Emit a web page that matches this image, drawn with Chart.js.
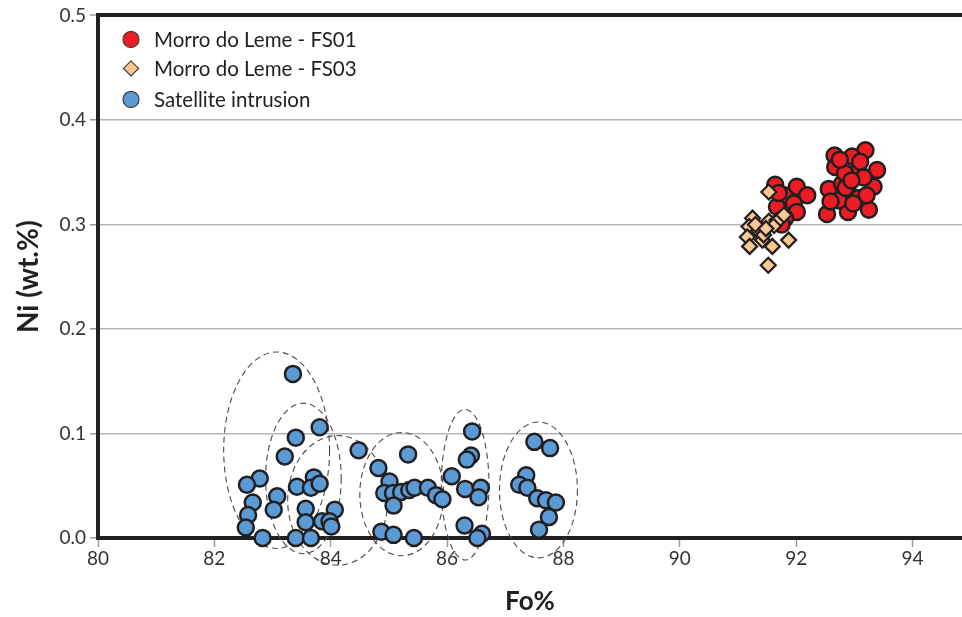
<!DOCTYPE html>
<html>
<head>
<meta charset="utf-8">
<title>Ni vs Fo% in olivine</title>
<script src="https://cdn.jsdelivr.net/npm/chart.js@4.4.1/dist/chart.umd.min.js"></script>
<style>
  html, body { margin: 0; padding: 0; background: #ffffff; }
  #wrap { width: 962px; height: 617px; }
</style>
</head>
<body>
<div id="wrap"><canvas id="chart" width="962" height="617"></canvas></div>
<script>
// Olivine compositions: forsterite content (Fo%) against Ni (wt.%)
const seriesNames = ['Morro do Leme - FS01', 'Morro do Leme - FS03', 'Satellite intrusion'];

// Morro do Leme, sample FS01 — [Fo%, Ni wt.%]
const fs01 = [
  [91.64, 0.338], [92.01, 0.336], [92.19, 0.328], [91.79, 0.328], [91.96, 0.320],
  [92.01, 0.312], [91.67, 0.317], [91.81, 0.306], [91.70, 0.330], [91.75, 0.300],
  [92.66, 0.366], [93.19, 0.371], [93.39, 0.352], [93.33, 0.336], [93.25, 0.314],
  [92.89, 0.312], [92.53, 0.310], [92.56, 0.334], [92.67, 0.355], [92.96, 0.365],
  [93.07, 0.352], [93.16, 0.345], [92.79, 0.339], [92.90, 0.330], [93.07, 0.325],
  [92.73, 0.323], [93.21, 0.328], [92.84, 0.349], [92.98, 0.320], [92.59, 0.322],
  [92.75, 0.362], [93.10, 0.360], [92.85, 0.335], [92.95, 0.342]
];

// Morro do Leme, sample FS03 — [Fo%, Ni wt.%]
const fs03 = [
  [91.53, 0.331], [91.25, 0.306], [91.19, 0.298], [91.35, 0.294], [91.16, 0.288],
  [91.20, 0.279], [91.42, 0.285], [91.59, 0.279], [91.53, 0.303], [91.67, 0.304],
  [91.87, 0.285], [91.52, 0.261], [91.44, 0.290], [91.62, 0.299], [91.73, 0.306],
  [91.79, 0.309], [91.30, 0.300], [91.48, 0.296]
];

// Satellite intrusion — [Fo%, Ni wt.%]
const satellite = [
  [83.35, 0.157], [83.81, 0.106], [83.40, 0.096], [83.21, 0.078], [82.78, 0.057],
  [82.56, 0.051], [82.66, 0.034], [82.58, 0.022], [82.54, 0.010], [82.83, 0.000],
  [83.08, 0.040], [83.02, 0.027], [83.42, 0.049], [83.71, 0.058], [83.66, 0.048],
  [83.81, 0.052], [83.57, 0.028], [83.57, 0.015], [83.40, 0.000], [83.66, 0.000],
  [84.07, 0.027], [83.85, 0.016], [83.98, 0.016], [84.01, 0.011],
  [84.48, 0.084], [85.33, 0.080], [84.82, 0.067], [85.01, 0.054], [84.92, 0.043],
  [85.07, 0.043], [85.21, 0.044], [85.35, 0.046], [85.44, 0.048], [85.67, 0.048],
  [85.81, 0.041], [85.92, 0.037], [85.08, 0.031], [84.87, 0.006], [85.08, 0.003],
  [85.43, 0.000],
  [86.08, 0.059], [86.43, 0.102], [86.41, 0.079], [86.34, 0.075], [86.31, 0.047],
  [86.58, 0.048], [86.54, 0.039], [86.30, 0.012], [86.60, 0.004], [86.52, 0.000],
  [87.50, 0.092], [87.77, 0.086], [87.36, 0.060], [87.24, 0.051], [87.38, 0.048],
  [87.55, 0.038], [87.70, 0.036], [87.87, 0.034], [87.75, 0.020], [87.58, 0.008]
];

// Dashed groupings of the satellite analyses — centre (Fo%, Ni) and half-widths in data units
const groupCentresFo = [83.07, 83.53, 84.12, 85.22, 86.31, 87.57];
const groupCentresNi = [0.084, 0.057, 0.036, 0.042, 0.051, 0.046];
const groupHalfFo    = [0.91, 0.65, 0.86, 0.72, 0.41, 0.67];
const groupHalfNi    = [0.094, 0.072, 0.062, 0.059, 0.072, 0.065];

// Axis ranges and ticks
const xRange = [80, 94.85];
const xStep = 2;
const yRange = [0, 0.5];
const yStep = 0.1;

const INK = '#231f20';
const FONT = "'Lato', 'Noto Sans', sans-serif";

const toXY = arr => arr.map(p => ({ x: p[0], y: p[1] }));

// Dashed ellipses drawn beneath the markers
const groupOutlines = {
  id: 'groupOutlines',
  beforeDatasetsDraw(chart) {
    const { ctx, scales: { x, y } } = chart;
    ctx.save();
    ctx.strokeStyle = '#4a4a4a';
    ctx.lineWidth = 1.1;
    ctx.setLineDash([6, 4]);
    for (let i = 0; i < groupCentresFo.length; i++) {
      const cx = x.getPixelForValue(groupCentresFo[i]);
      const cy = y.getPixelForValue(groupCentresNi[i]);
      const rx = Math.abs(x.getPixelForValue(groupCentresFo[i] + groupHalfFo[i]) - cx);
      const ry = Math.abs(y.getPixelForValue(groupCentresNi[i] + groupHalfNi[i]) - cy);
      ctx.beginPath();
      ctx.ellipse(cx, cy, rx, ry, 0, 0, Math.PI * 2);
      ctx.stroke();
    }
    ctx.restore();
  }
};

// Legend box inside the plot, top-left
const insetLegend = {
  id: 'insetLegend',
  afterDatasetsDraw(chart) {
    const { ctx, chartArea } = chart;
    const x0 = chartArea.left + 33;
    const rows = [24, 53, 84];
    ctx.save();
    chart.data.datasets.forEach((ds, i) => {
      const cy = chartArea.top + rows[i];
      ctx.fillStyle = ds.backgroundColor;
      ctx.strokeStyle = '#3a3a3a';
      ctx.lineWidth = 1.2;
      ctx.beginPath();
      if (ds.pointStyle === 'rectRot') {
        const r = 7.5;
        ctx.moveTo(x0, cy - r);
        ctx.lineTo(x0 + r, cy);
        ctx.lineTo(x0, cy + r);
        ctx.lineTo(x0 - r, cy);
        ctx.closePath();
      } else {
        ctx.arc(x0, cy, 8, 0, Math.PI * 2);
      }
      ctx.fill();
      ctx.stroke();
      ctx.fillStyle = INK;
      ctx.font = '20.5px ' + FONT;
      ctx.textBaseline = 'middle';
      ctx.textAlign = 'left';
      ctx.fillText(ds.label, x0 + 23, cy + 1);
    });
    ctx.restore();
  }
};

new Chart(document.getElementById('chart'), {
  type: 'scatter',
  data: {
    datasets: [
      {
        label: seriesNames[0],
        data: toXY(fs01),
        pointStyle: 'circle',
        backgroundColor: '#ed1c24',
        borderColor: INK,
        borderWidth: 2.5,
        pointRadius: 8,
        pointHoverRadius: 8,
        order: 1
      },
      {
        label: seriesNames[1],
        data: toXY(fs03),
        pointStyle: 'rectRot',
        backgroundColor: '#fcc891',
        borderColor: INK,
        borderWidth: 2.2,
        pointRadius: 7.5,
        pointHoverRadius: 7.5,
        order: 0
      },
      {
        label: seriesNames[2],
        data: toXY(satellite),
        pointStyle: 'circle',
        backgroundColor: '#5b9bd5',
        borderColor: INK,
        borderWidth: 2.5,
        pointRadius: 8,
        pointHoverRadius: 8,
        order: 2
      }
    ]
  },
  options: {
    responsive: false,
    animation: false,
    devicePixelRatio: 1,
    clip: false,
    layout: { autoPadding: false, padding: { top: 15, right: 0, bottom: 0, left: 0 } },
    plugins: {
      legend: { display: false },
      tooltip: { enabled: false }
    },
    scales: {
      x: {
        type: 'linear',
        min: xRange[0],
        max: xRange[1],
        afterFit(scale) { scale.height = 79; },
        ticks: {
          stepSize: xStep,
          includeBounds: false,
          color: '#333333',
          padding: 0,
          font: { family: FONT, size: 19 },
          callback: v => String(v)
        },
        grid: {
          display: true,
          drawOnChartArea: false,
          drawTicks: true,
          tickLength: 9,
          tickColor: '#9a9a9a',
          tickWidth: 1.5
        },
        border: { display: true, color: INK, width: 4 },
        title: {
          display: true,
          text: 'Fo%',
          color: INK,
          font: { family: FONT, size: 26, weight: 'bold' },
          padding: { top: 0, bottom: 0 }
        }
      },
      y: {
        type: 'linear',
        min: yRange[0],
        max: yRange[1],
        afterFit(scale) { scale.width = 98; },
        ticks: {
          stepSize: yStep,
          color: '#333333',
          padding: 4,
          font: { family: FONT, size: 19 },
          callback: v => Number(v).toFixed(1)
        },
        grid: {
          drawTicks: true,
          tickLength: 8,
          tickColor: '#9a9a9a',
          tickWidth: 1.5,
          color: ctx => {
            const v = ctx.tick ? Math.round(ctx.tick.value * 10) / 10 : null;
            if (v === yRange[1]) return INK;
            if (v === yRange[0]) return 'rgba(0,0,0,0)';
            return '#b5b5b5';
          },
          lineWidth: ctx => {
            const v = ctx.tick ? Math.round(ctx.tick.value * 10) / 10 : null;
            return v === yRange[1] ? 4 : 1.5;
          }
        },
        border: { display: true, color: INK, width: 4 },
        title: {
          display: true,
          text: 'Ni (wt.%)',
          color: INK,
          font: { family: FONT, size: 28, weight: 'bold' },
          padding: { top: 12, bottom: 0 }
        }
      }
    }
  },
  plugins: [groupOutlines, insetLegend]
});
</script>
</body>
</html>
